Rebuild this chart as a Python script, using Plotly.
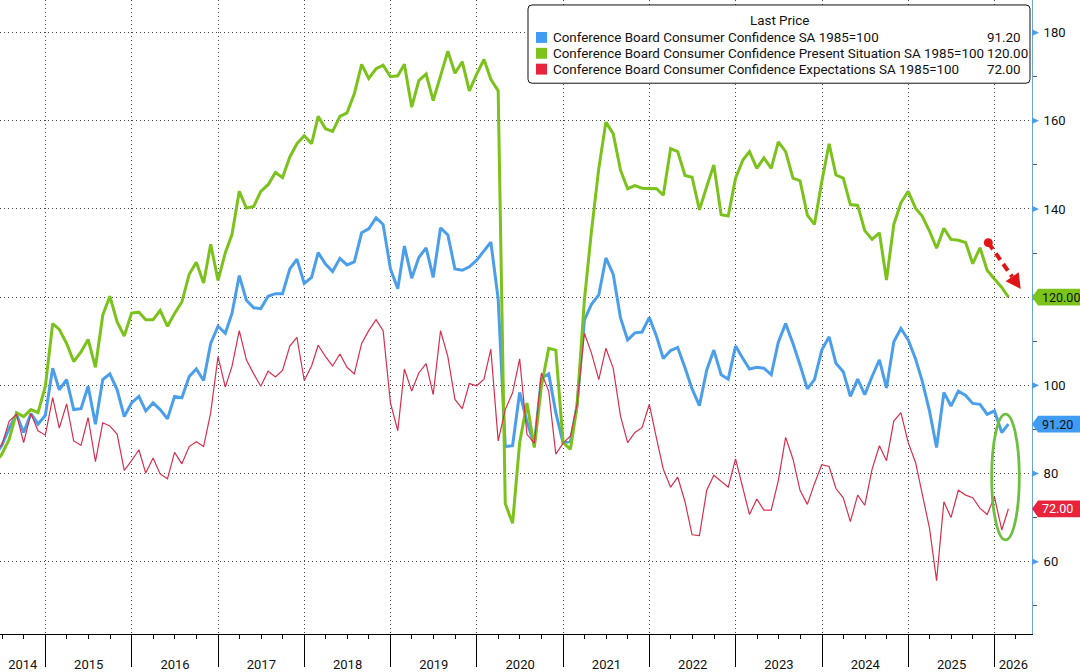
import pandas as pd
import plotly.graph_objects as go

# ---------------- data (monthly, month-end) ----------------
months = pd.date_range("2014-05-31", "2026-02-28", freq="ME")

headline = [
    84.0, 86.4, 90.3, 93.4, 89.3, 93.6, 91.2, 93.2,                                   # 2014 May-Dec
    103.9, 99.0, 101.3, 94.5, 94.7, 99.8, 91.2, 101.3, 102.6, 99.0, 92.9, 96.0,       # 2015
    97.5, 94.2, 96.0, 94.5, 92.4, 97.5, 97.2, 102.0, 103.7, 101.1, 109.5, 113.4,      # 2016
    111.8, 116.3, 124.9, 119.3, 117.6, 117.4, 120.2, 120.8, 120.8, 126.4, 128.6, 123.1,  # 2017
    124.5, 130.1, 127.5, 125.8, 128.8, 127.3, 128.0, 134.6, 135.5, 138.0, 136.5, 126.4,  # 2018
    121.9, 131.6, 124.3, 129.0, 131.2, 124.5, 135.7, 134.1, 126.4, 126.1, 126.9, 128.4,  # 2019
    130.5, 132.5, 119.6, 86.1, 86.3, 98.4, 91.7, 86.5, 101.6, 102.6, 93.8, 86.9,      # 2020
    87.3, 95.5, 114.8, 118.4, 120.5, 128.9, 125.2, 115.3, 110.3, 111.9, 112.1, 115.4, # 2021
    111.0, 106.1, 107.9, 108.6, 104.0, 99.2, 95.4, 103.5, 108.0, 102.4, 101.4, 108.9, # 2022
    106.1, 103.7, 104.1, 103.9, 102.4, 109.8, 114.0, 109.5, 104.6, 99.2, 101.3, 108.0,# 2023
    111.0, 105.0, 103.1, 97.5, 101.4, 97.9, 102.0, 105.8, 99.4, 109.9, 112.9, 110.3,  # 2024
    106.0, 101.0, 94.2, 85.9, 98.4, 95.3, 98.7, 97.7, 95.9, 95.7, 93.4, 94.2,         # 2025
    89.3, 91.2,                                                                       # 2026 Jan-Feb
]

present = [
    82.5, 84.4, 87.8, 93.8, 92.9, 94.5, 93.8, 99.8,
    114.0, 112.7, 109.5, 105.4, 107.6, 110.4, 104.1, 115.9, 120.2, 114.4, 111.2, 116.4,
    116.6, 114.9, 114.9, 117.0, 113.4, 116.3, 118.9, 125.2, 127.9, 123.2, 132.0, 123.8,
    130.1, 134.2, 144.0, 140.2, 140.6, 144.0, 145.5, 148.3, 147.1, 151.8, 154.8, 156.6,
    154.8, 161.0, 158.2, 157.6, 161.0, 161.8, 166.1, 172.8, 169.6, 171.8, 172.6, 170.0,
    170.2, 172.8, 163.1, 169.1, 170.6, 164.6, 170.2, 175.8, 170.8, 173.4, 166.8, 170.6,
    173.9, 169.4, 166.8, 73.2, 68.7, 87.0, 96.0, 85.9, 99.8, 108.4, 108.0, 87.0,
    85.5, 95.3, 119.3, 135.0, 149.2, 159.7, 157.1, 148.8, 144.6, 145.3, 144.7, 144.7,
    144.6, 143.1, 153.7, 153.0, 147.6, 147.2, 139.8, 145.1, 150.0, 138.7, 138.4, 147.0,
    151.1, 153.0, 149.2, 151.6, 149.2, 155.2, 153.0, 147.0, 146.4, 138.6, 136.5, 146.2,
    154.8, 147.7, 147.0, 141.0, 140.8, 135.1, 133.1, 134.6, 123.9, 136.5, 141.4, 144.0,
    140.2, 138.4, 135.0, 131.1, 135.6, 133.1, 132.9, 132.4, 127.6, 131.2, 126.1, 124.1,
    122.2, 120.0,
]

expectations = [
    85.0, 86.5, 91.9, 93.4, 87.0, 93.6, 89.7, 88.7,
    97.2, 90.3, 95.8, 87.4, 86.4, 92.7, 82.7, 91.5, 90.8, 88.9, 80.7, 82.9,
    85.4, 80.1, 83.5, 79.9, 78.8, 84.8, 82.2, 86.1, 87.2, 86.1, 93.8, 106.5,
    99.6, 104.3, 112.4, 105.8, 102.6, 99.8, 103.2, 101.9, 103.4, 108.9, 110.9, 101.1,
    104.4, 109.1, 106.5, 104.4, 107.1, 104.1, 102.6, 109.5, 112.4, 114.9, 112.4, 96.0,
    89.7, 103.7, 98.7, 102.8, 104.9, 97.9, 112.4, 106.5, 96.8, 94.7, 100.4, 99.9,
    101.4, 108.2, 87.4, 94.5, 98.3, 106.0, 88.9, 86.9, 102.8, 98.7, 84.4, 86.9,
    88.5, 95.7, 111.8, 107.3, 101.3, 108.4, 103.9, 93.0, 87.0, 89.3, 90.4, 95.7,
    87.8, 81.0, 76.9, 79.2, 73.6, 66.1, 65.9, 76.2, 79.6, 78.2, 76.9, 83.3,
    76.6, 70.7, 74.2, 71.7, 71.7, 78.4, 88.2, 83.3, 76.2, 73.0, 77.7, 82.0,
    81.6, 76.6, 74.5, 69.1, 75.1, 72.8, 81.0, 86.3, 82.9, 91.9, 93.8, 87.0,
    82.5, 75.1, 67.6, 55.7, 73.6, 70.0, 76.2, 75.1, 74.5, 72.1, 70.7, 74.7,
    67.2, 72.0,
]

series_names = [
    "Conference Board Consumer Confidence SA 1985=100",
    "Conference Board Consumer Confidence Present Situation SA 1985=100",
    "Conference Board Consumer Confidence Expectations SA 1985=100",
]
legend_title = "Last Price"
year_labels = [str(y) for y in range(2014, 2027)]
y_ticks = [60, 80, 100, 120, 140, 160, 180]
y_minor = [50, 70, 90, 110, 130, 150, 170]

# ---------------- styling ----------------
BLUE, GREEN, RED = "#4b9fea", "#7cc21c", "#d7304e"
BLUE_TAG, GREEN_TAG, RED_TAG = "#3f9cf2", "#7cc41a", "#e8243c"
FONT = "Roboto, 'Liberation Sans', Arial, sans-serif"

X_START, X_END = pd.Timestamp("2014-06-22"), pd.Timestamp("2026-06-08")
Y_RANGE = [43.6, 187.4]
PW, PH = 1032, 640          # plot area size in px


def px(x):
    return x / PW


def py(y):
    return (PH - y) / PH


# year separators / label positions (centre of the visible part of each year)
year_starts = [pd.Timestamp(f"{y}-01-01") for y in range(2015, 2027)]
label_pos = []
for y in range(2014, 2027):
    a = max(pd.Timestamp(f"{y}-01-01"), X_START)
    b = min(pd.Timestamp(f"{y + 1}-01-01"), X_END)
    label_pos.append(a + (b - a) / 2)

# tick labels hidden underneath the last-value tags (as in the original)
last_vals = [headline[-1], present[-1], expectations[-1]]
y_ticktext = [("" if any(abs(v - lv) < 3.5 for lv in last_vals) else str(v)) for v in y_ticks]

fig = go.Figure()
for vals, col, w in [(headline, BLUE, 3), (present, GREEN, 3), (expectations, RED, 1.2)]:
    fig.add_trace(go.Scatter(x=months, y=vals, mode="lines",
                             line=dict(color=col, width=w), showlegend=False,
                             hoverinfo="skip"))
# helper trace for the quarterly tick axis
fig.add_trace(go.Scatter(x=[X_START, X_END], y=[None, None], xaxis="x2",
                         mode="lines", showlegend=False, hoverinfo="skip"))

fig.update_layout(
    width=1080, height=672,
    margin=dict(l=0, r=48, t=0, b=32),
    paper_bgcolor="white", plot_bgcolor="white",
    hovermode=False,
    font=dict(family=FONT, color="#111"),
    xaxis=dict(
        type="date", range=[X_START, X_END],
        tickmode="array", tickvals=label_pos, ticktext=year_labels,
        ticks="outside", ticklen=18, tickcolor="rgba(0,0,0,0)",
        tickfont=dict(family=FONT, size=13, color="#111"),
        showgrid=False, zeroline=False,
        showline=True, linecolor="#000", linewidth=1,
        minor=dict(tickmode="array", tickvals=year_starts, showgrid=True,
                   gridcolor="#444", griddash="1px,3px", gridwidth=1,
                   ticks="outside", ticklen=32, tickcolor="#000", tickwidth=1),
    ),
    xaxis2=dict(
        type="date", range=[X_START, X_END], overlaying="x", anchor="y",
        side="bottom", showticklabels=False, showgrid=False, showline=False,
        ticks="outside", ticklen=4, tickcolor="#000", dtick="M3",
        tick0="2014-01-01",
    ),
    yaxis=dict(
        side="right", range=Y_RANGE,
        tickmode="array", tickvals=y_ticks, ticktext=y_ticktext,
        ticks="outside", ticklen=8, tickcolor="rgba(0,0,0,0)",
        tickfont=dict(family=FONT, size=13, color="#111"),
        showgrid=True, gridcolor="#444", griddash="1px,3px", gridwidth=1,
        zeroline=False, showline=True, linecolor="#6aa6dc", linewidth=1,
        minor=dict(tickmode="array", tickvals=y_minor, ticks="outside",
                   ticklen=4, tickcolor="#555", tickwidth=1, showgrid=False),
    ),
)

shapes = []
annotations = []

# blue tick triangles on the value axis
for v in y_ticks:
    shapes.append(dict(type="path", xref="paper", yref="y",
                       path=f"M {px(1032)},{v + 0.75} L {px(1039)},{v} L {px(1032)},{v - 0.75} Z",
                       fillcolor="#4b9fea", line=dict(width=0), layer="above"))

# last-value tags
for vals, bg, fc in [(present, GREEN_TAG, "#111"), (headline, BLUE_TAG, "#111"),
                     (expectations, RED_TAG, "#fff")]:
    v = vals[-1]
    h = 1.9
    shapes.append(dict(type="path", xref="paper", yref="y",
                       path=(f"M {px(1032)},{v} L {px(1038)},{v + h} L {px(1084)},{v + h} "
                             f"L {px(1084)},{v - h} L {px(1038)},{v - h} Z"),
                       fillcolor=bg, line=dict(width=0), layer="above"))
    annotations.append(dict(xref="paper", yref="y", x=px(1040), y=v, text=f"{v:.2f}",
                            showarrow=False, xanchor="left", yanchor="middle",
                            font=dict(family=FONT, size=12.5, color=fc)))

# legend box
x0, y0, x1, y1, r = 528, 5, 1030, 84, 4
pts = [
    f"M {px(x0 + r)},{py(y0)}", f"L {px(x1 - r)},{py(y0)}",
    f"Q {px(x1)},{py(y0)} {px(x1)},{py(y0 + r)}", f"L {px(x1)},{py(y1 - r)}",
    f"Q {px(x1)},{py(y1)} {px(x1 - r)},{py(y1)}", f"L {px(x0 + r)},{py(y1)}",
    f"Q {px(x0)},{py(y1)} {px(x0)},{py(y1 - r)}", f"L {px(x0)},{py(y0 + r)}",
    f"Q {px(x0)},{py(y0)} {px(x0 + r)},{py(y0)}", "Z",
]
shapes.append(dict(type="path", xref="paper", yref="paper", path=" ".join(pts),
                   fillcolor="white", line=dict(color="#111", width=1), layer="above"))
annotations.append(dict(xref="paper", yref="paper", x=px(779), y=py(21),
                        text=legend_title, showarrow=False, xanchor="center",
                        yanchor="middle", font=dict(family=FONT, size=13.4, color="#111")))
for i, (name, col, vals) in enumerate(zip(series_names, [BLUE_TAG, GREEN_TAG, RED_TAG],
                                          [headline, present, expectations])):
    yc = 37.8 + 16 * i
    shapes.append(dict(type="rect", xref="paper", yref="paper",
                       x0=px(536), x1=px(547), y0=py(yc + 5.5), y1=py(yc - 5.5),
                       fillcolor=col, line=dict(width=0), layer="above"))
    annotations.append(dict(xref="paper", yref="paper", x=px(551), y=py(yc), text=name,
                            showarrow=False, xanchor="left", yanchor="middle",
                            font=dict(family=FONT, size=13.4, color="#111")))
    annotations.append(dict(xref="paper", yref="paper", x=px(985), y=py(yc),
                            text=f"{vals[-1]:.2f}", showarrow=False, xanchor="left",
                            yanchor="middle", font=dict(family=FONT, size=13.4, color="#111")))

# red dashed arrow annotation
dot = (988.3, 245.0)
tip = (1020.7, 291.7)
dx, dy = tip[0] - dot[0], tip[1] - dot[1]
L = (dx ** 2 + dy ** 2) ** 0.5
ux, uy = dx / L, dy / L
hl, hw = 15, 8
bx, by = tip[0] - hl * ux, tip[1] - hl * uy
c1 = (bx + hw * uy, by - hw * ux)
c2 = (bx - hw * uy, by + hw * ux)
ARROW = "#e01515"
shapes.append(dict(type="line", xref="paper", yref="paper",
                   x0=px(dot[0]), y0=py(dot[1]), x1=px(bx), y1=py(by),
                   line=dict(color=ARROW, width=4, dash="8px,5px"), layer="above"))
shapes.append(dict(type="path", xref="paper", yref="paper",
                   path=f"M {px(tip[0])},{py(tip[1])} L {px(c1[0])},{py(c1[1])} L {px(c2[0])},{py(c2[1])} Z",
                   fillcolor=ARROW, line=dict(width=0), layer="above"))
shapes.append(dict(type="circle", xref="paper", yref="paper",
                   x0=px(dot[0] - 4.5), x1=px(dot[0] + 4.5),
                   y0=py(dot[1] + 4.5), y1=py(dot[1] - 4.5),
                   fillcolor=ARROW, line=dict(width=0), layer="above"))

# green ellipse
shapes.append(dict(type="circle", xref="paper", yref="paper",
                   x0=px(991.7), x1=px(1019.3), y0=py(545), y1=py(418),
                   line=dict(color="#6cbf3f", width=2.8), fillcolor="rgba(0,0,0,0)",
                   layer="above"))

fig.update_layout(shapes=shapes, annotations=annotations)
fig.write_html(
    "out.html",
    config={"displayModeBar": False, "staticPlot": True},
    post_script="document.body.style.margin='0';document.body.style.overflow='hidden';",
)
